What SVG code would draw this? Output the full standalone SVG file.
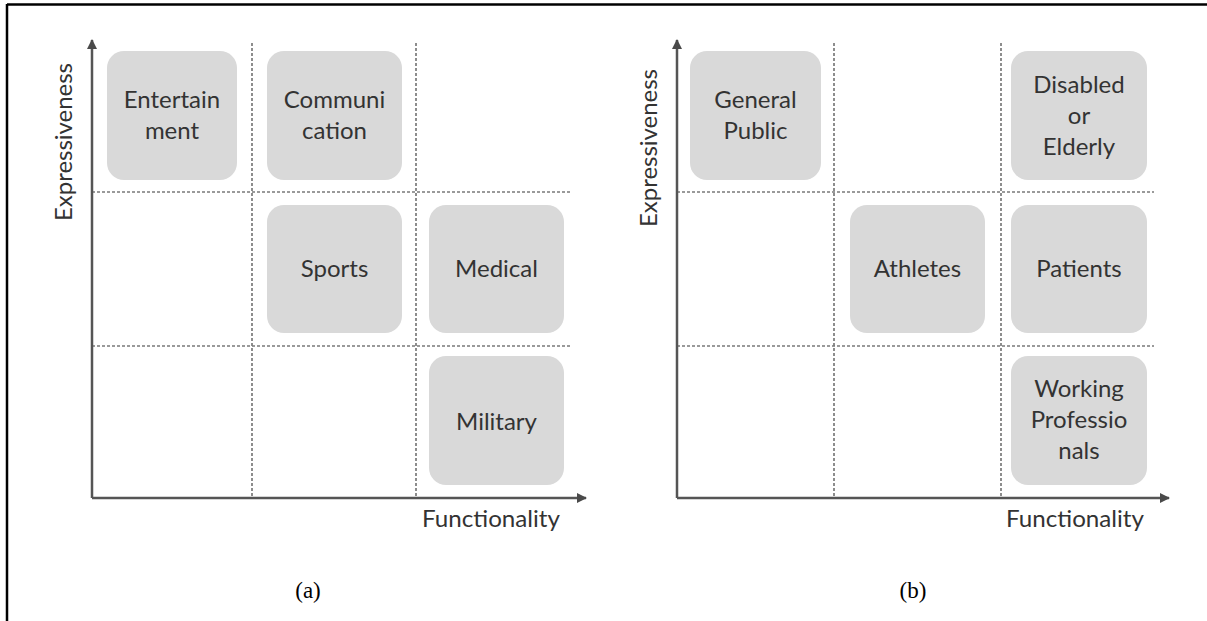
<svg xmlns="http://www.w3.org/2000/svg" width="1207" height="621" viewBox="0 0 1207 621">
<defs>
<marker id="arr" viewBox="0 0 10 10" refX="9" refY="5" markerWidth="4" markerHeight="4" orient="auto" markerUnits="strokeWidth">
<path d="M0,0 L10,5 L0,10 Z" fill="#4a4a4a"/>
</marker>
<style>
.box{fill:#d9d9d9;}
.lbl{font-family:Lato,"Liberation Sans",sans-serif;font-size:24px;fill:#333;text-anchor:middle;}
.ax{stroke:#555;stroke-width:2.5;fill:none;}
.grid{stroke:#7a7a7a;stroke-width:1.7;stroke-dasharray:3 2;fill:none;}
.cap{font-family:"Liberation Serif",serif;font-size:23px;fill:#000;text-anchor:middle;}
</style>
</defs>
<rect width="1207" height="621" fill="#fff"/>
<g id="frame">
<line x1="7" y1="4.5" x2="1207" y2="4.5" stroke="#000" stroke-width="2.5"/>
<line x1="7" y1="4" x2="7" y2="621" stroke="#000" stroke-width="2.5"/>
</g>
<g id="connectors">
<line class="grid" x1="252" y1="43" x2="252" y2="498"/>
<line class="grid" x1="416" y1="43" x2="416" y2="498"/>
<line class="grid" x1="92" y1="192" x2="570" y2="192"/>
<line class="grid" x1="92" y1="346" x2="570" y2="346"/>
<line class="ax" x1="92" y1="498" x2="92" y2="40" marker-end="url(#arr)"/>
<line class="ax" x1="92" y1="498" x2="586" y2="498" marker-end="url(#arr)"/>
<line class="grid" x1="834" y1="43" x2="834" y2="498"/>
<line class="grid" x1="1001" y1="43" x2="1001" y2="498"/>
<line class="grid" x1="677" y1="192" x2="1154" y2="192"/>
<line class="grid" x1="677" y1="346" x2="1154" y2="346"/>
<line class="ax" x1="677" y1="498" x2="677" y2="40" marker-end="url(#arr)"/>
<line class="ax" x1="677" y1="498" x2="1169" y2="498" marker-end="url(#arr)"/>
</g>
<g id="axis-labels-a">
<text class="lbl" transform="translate(72,142) rotate(-90)" textLength="158" lengthAdjust="spacingAndGlyphs">Expressiveness</text>
<text class="lbl" x="491" y="527" textLength="138" lengthAdjust="spacingAndGlyphs">Functionality</text>
</g>
<g id="axis-labels-b">
<text class="lbl" transform="translate(657,148) rotate(-90)" textLength="158" lengthAdjust="spacingAndGlyphs">Expressiveness</text>
<text class="lbl" x="1075" y="527" textLength="138" lengthAdjust="spacingAndGlyphs">Functionality</text>
</g>
<g id="entertainment"><rect class="box" x="107" y="51" width="130" height="129" rx="17"/><text class="lbl" x="172" y="108">Entertain</text><text class="lbl" x="172" y="139">ment</text></g>
<g id="communication"><rect class="box" x="267" y="51" width="135" height="129" rx="17"/><text class="lbl" x="334.5" y="108">Communi</text><text class="lbl" x="334.5" y="139">cation</text></g>
<g id="sports"><rect class="box" x="267" y="205" width="135" height="128" rx="17"/><text class="lbl" x="334.5" y="277">Sports</text></g>
<g id="medical"><rect class="box" x="429" y="205" width="135" height="128" rx="17"/><text class="lbl" x="496.5" y="277">Medical</text></g>
<g id="military"><rect class="box" x="429" y="356" width="135" height="129" rx="17"/><text class="lbl" x="496.5" y="430">Military</text></g>
<g id="general-public"><rect class="box" x="690" y="51" width="131" height="129" rx="17"/><text class="lbl" x="755.5" y="108">General</text><text class="lbl" x="755.5" y="139">Public</text></g>
<g id="disabled-elderly"><rect class="box" x="1011" y="51" width="136" height="129" rx="17"/><text class="lbl" x="1079" y="93">Disabled</text><text class="lbl" x="1079" y="124">or</text><text class="lbl" x="1079" y="155">Elderly</text></g>
<g id="athletes"><rect class="box" x="850" y="205" width="135" height="128" rx="17"/><text class="lbl" x="917.5" y="277">Athletes</text></g>
<g id="patients"><rect class="box" x="1011" y="205" width="136" height="128" rx="17"/><text class="lbl" x="1079" y="277">Patients</text></g>
<g id="working-professionals"><rect class="box" x="1011" y="356" width="136" height="129" rx="17"/><text class="lbl" x="1079" y="397">Working</text><text class="lbl" x="1079" y="428">Professio</text><text class="lbl" x="1079" y="459">nals</text></g>
<g id="captions">
<text class="cap" x="308" y="598">(a)</text>
<text class="cap" x="913" y="598">(b)</text>
</g>
</svg>
